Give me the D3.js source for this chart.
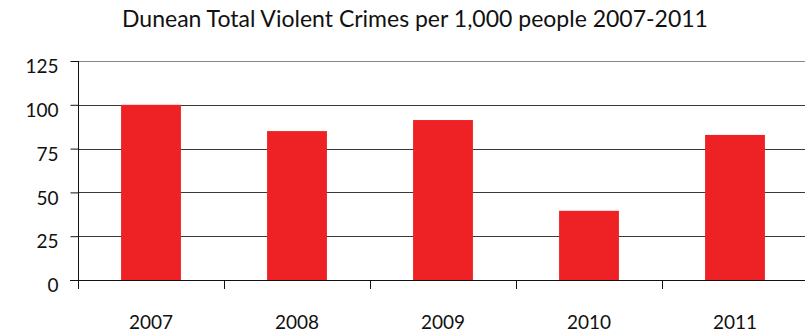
<!DOCTYPE html>
<html><head><meta charset="utf-8">
<script src="https://cdn.jsdelivr.net/npm/d3@7"></script>
<style>body{margin:0;background:#fff}svg{display:block}text{font-family:Lato,"Open Sans",sans-serif;fill:#111}</style>
</head><body><svg id="c" width="805" height="335"></svg>
<script>
const years = ["2007","2008","2009","2010","2011"];
const crimes = [100, 85, 91.3, 39.5, 82.8];
const yTicks = [0, 25, 50, 75, 100, 125];
const title = "Dunean Total Violent Crimes per 1,000 people 2007-2011";

const svg = d3.select("#c");
const x = d3.scaleBand().domain(years).range([78, 808]).paddingInner(0.59).paddingOuter(0.295);
const y = d3.scaleLinear().domain([0, 125]).range([280, 61]);

// gridlines
svg.append("g").selectAll("line").data(yTicks.filter(d => d > 0)).join("line")
  .attr("x1", 78).attr("x2", 808)
  .attr("y1", d => Math.round(y(d)) + 0.5).attr("y2", d => Math.round(y(d)) + 0.5)
  .attr("stroke", d => d === 125 ? "#888" : "#3a3a3a").attr("stroke-width", 1);

// bars
svg.append("g").selectAll("rect").data(years).join("rect")
  .attr("x", d => x(d)).attr("width", x.bandwidth())
  .attr("y", (d, i) => y(crimes[i])).attr("height", (d, i) => y(0) - y(crimes[i]))
  .attr("fill", "#EE2224");

// y axis
const ya = svg.append("g").attr("transform", "translate(78.5,0)")
  .call(d3.axisLeft(y).tickValues(yTicks).tickSize(8).tickSizeOuter(0).tickPadding(12));
ya.select(".domain").attr("stroke", "#111").attr("d", "M0,61V288");
ya.selectAll(".tick line").attr("stroke", "#111");
ya.selectAll(".tick text").attr("font-size", 19).attr("dy", "0.62em").attr("font-family", "Lato");

// x axis
const xa = svg.append("g").attr("transform", "translate(0,280.5)")
  .call(d3.axisBottom(x).tickSize(0).tickSizeOuter(0).tickPadding(35));
xa.select(".domain").attr("stroke", "#111").attr("d", "M70,0H808");
xa.selectAll(".tick text").attr("font-size", 19).attr("font-family", "Lato");
// category boundary ticks
const bounds = years.map((d, i) => 78 + x.step() * i);
svg.append("g").selectAll("line").data(bounds).join("line")
  .attr("x1", d => Math.round(d) + 0.5).attr("x2", d => Math.round(d) + 0.5)
  .attr("y1", 280).attr("y2", 289).attr("stroke", "#111");

// title
svg.append("text").attr("x", 415).attr("y", 27).attr("text-anchor", "middle")
  .attr("font-size", 23).attr("font-family", "Lato").text(title);
</script></body></html>
